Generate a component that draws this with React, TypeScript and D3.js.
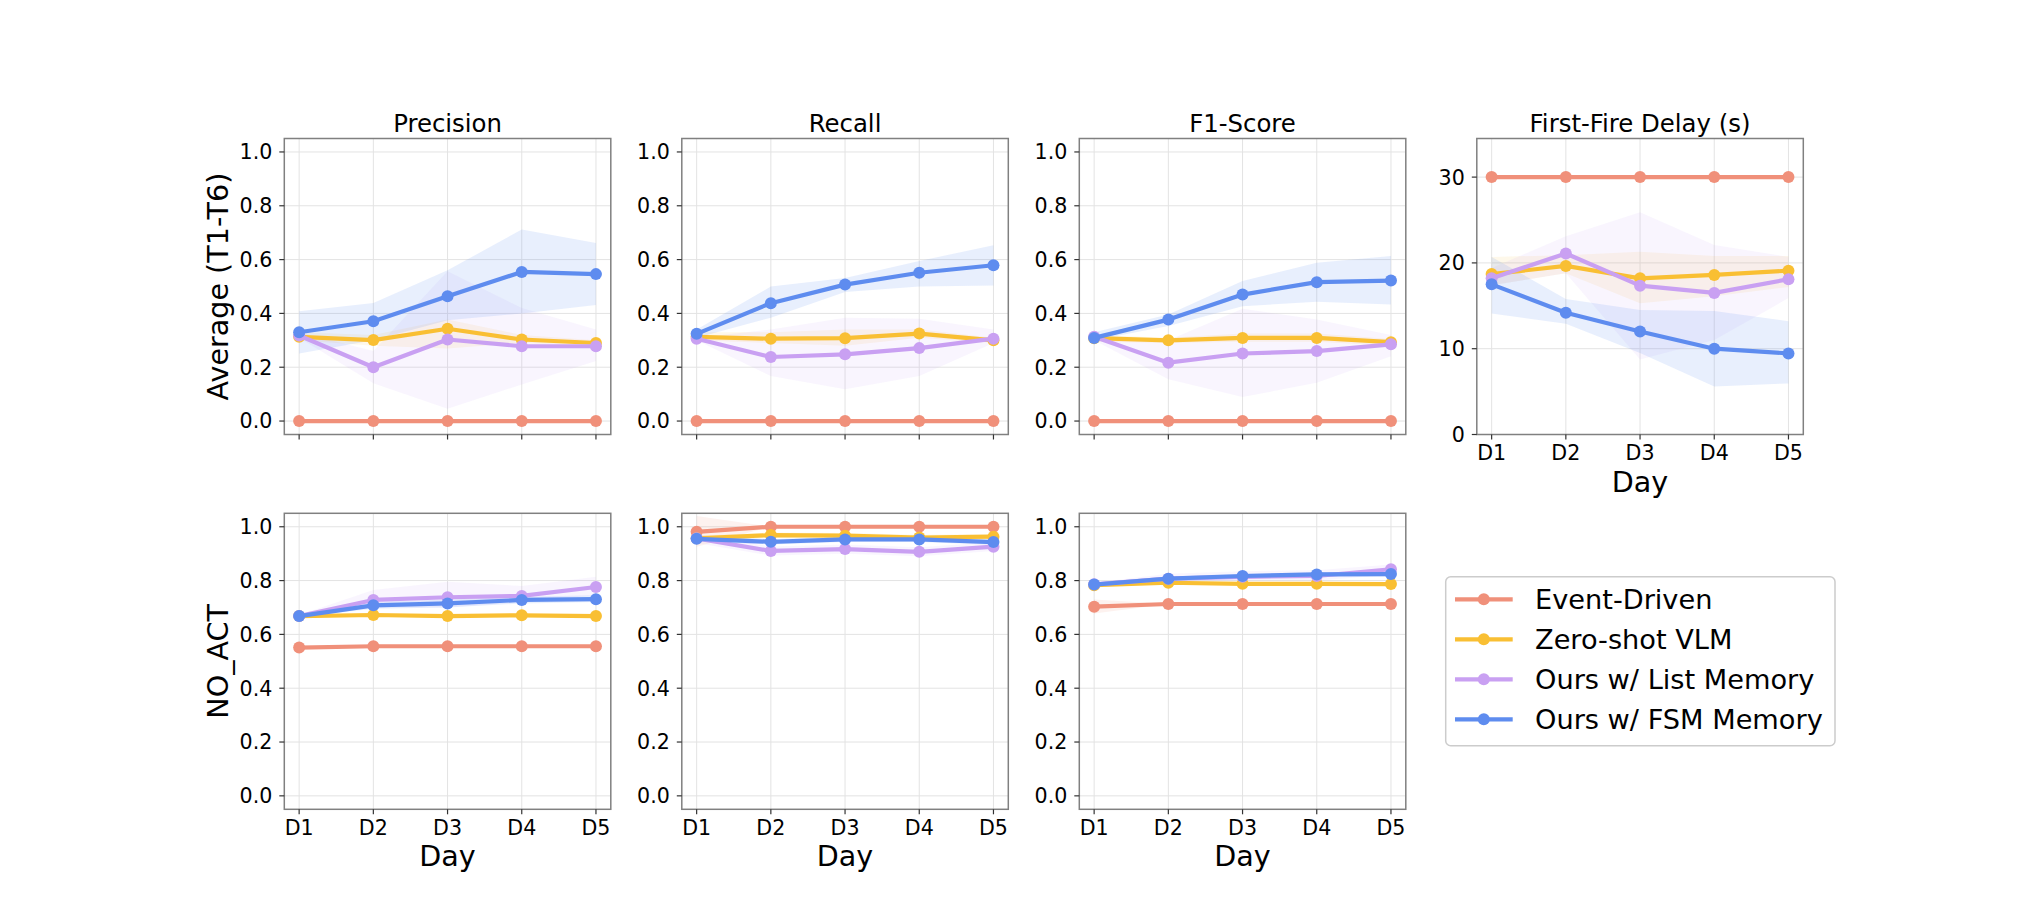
import React from "react";
import * as d3 from "d3";

// ---- data ----
const days = ["D1", "D2", "D3", "D4", "D5"];
const methods = ["Event-Driven", "Zero-shot VLM", "Ours w/ List Memory", "Ours w/ FSM Memory"];
const colors = ["#F0907A", "#F9BF33", "#C9A0F2", "#5E8CEF"];
const bandAlpha = [0.12, 0.1, 0.1, 0.14];

const metricTitles = ["Precision", "Recall", "F1-Score"];
const delayTitle = "First-Fire Delay (s)";
const rowLabels = ["Average (T1-T6)", "NO_ACT"];
const unitTicks = [0, 0.2, 0.4, 0.6, 0.8, 1.0];
const delayTicks = [0, 10, 20, 30];

// Average (T1-T6): rows are methods, columns are days
const avgPrecisionMean = [
  [0, 0, 0, 0, 0],
  [0.313, 0.301, 0.343, 0.303, 0.29],
  [0.318, 0.2, 0.303, 0.278, 0.278],
  [0.33, 0.371, 0.464, 0.554, 0.546],
];
const avgPrecisionLow = [
  [0, 0, 0, 0, 0],
  [0.3, 0.28, 0.27, 0.29, 0.28],
  [0.31, 0.14, 0.046, 0.136, 0.223],
  [0.251, 0.3, 0.375, 0.4, 0.431],
];
const avgPrecisionHigh = [
  [0, 0, 0, 0, 0],
  [0.33, 0.32, 0.377, 0.32, 0.3],
  [0.33, 0.26, 0.557, 0.42, 0.34],
  [0.408, 0.439, 0.56, 0.712, 0.662],
];

const avgRecallMean = [
  [0, 0, 0, 0, 0],
  [0.313, 0.306, 0.308, 0.325, 0.3],
  [0.306, 0.238, 0.248, 0.271, 0.306],
  [0.324, 0.438, 0.507, 0.551, 0.579],
];
const avgRecallLow = [
  [0, 0, 0, 0, 0],
  [0.3, 0.29, 0.28, 0.31, 0.29],
  [0.3, 0.167, 0.118, 0.167, 0.29],
  [0.31, 0.384, 0.48, 0.5, 0.504],
];
const avgRecallHigh = [
  [0, 0, 0, 0, 0],
  [0.33, 0.33, 0.34, 0.34, 0.31],
  [0.31, 0.34, 0.384, 0.38, 0.34],
  [0.34, 0.5, 0.532, 0.595, 0.653],
];

const avgF1Mean = [
  [0, 0, 0, 0, 0],
  [0.308, 0.3, 0.309, 0.309, 0.293],
  [0.313, 0.217, 0.251, 0.26, 0.285],
  [0.309, 0.377, 0.47, 0.516, 0.522],
];
const avgF1Low = [
  [0, 0, 0, 0, 0],
  [0.295, 0.29, 0.295, 0.295, 0.28],
  [0.3, 0.155, 0.089, 0.142, 0.241],
  [0.3, 0.353, 0.427, 0.443, 0.433],
];
const avgF1High = [
  [0, 0, 0, 0, 0],
  [0.32, 0.31, 0.325, 0.325, 0.305],
  [0.32, 0.3, 0.417, 0.377, 0.32],
  [0.33, 0.396, 0.52, 0.588, 0.613],
];

const delayMean = [
  [30, 30, 30, 30, 30],
  [18.7, 19.65, 18.2, 18.6, 19.1],
  [18.2, 21.1, 17.35, 16.5, 18.1],
  [17.5, 14.2, 12.0, 10.0, 9.45],
];
const delayLow = [
  [30, 30, 30, 30, 30],
  [17.4, 18.8, 15.3, 16.1, 17.2],
  [17.4, 18.8, 8.75, 11.0, 15.9],
  [14.1, 12.9, 9.5, 5.6, 5.95],
];
const delayHigh = [
  [30, 30, 30, 30, 30],
  [20.7, 20.9, 21.3, 20.8, 20.8],
  [19.4, 23.1, 25.9, 22.1, 20.7],
  [20.7, 15.8, 14.5, 14.4, 13.2],
];

// NO_ACT
const noActPrecisionMean = [
  [0.551, 0.556, 0.556, 0.556, 0.556],
  [0.668, 0.672, 0.668, 0.671, 0.668],
  [0.668, 0.728, 0.738, 0.743, 0.776],
  [0.668, 0.708, 0.715, 0.728, 0.731],
];
const noActPrecisionLow = [
  [0.546, 0.553, 0.553, 0.553, 0.553],
  [0.664, 0.668, 0.664, 0.667, 0.664],
  [0.665, 0.7, 0.7, 0.72, 0.745],
  [0.665, 0.695, 0.7, 0.715, 0.72],
];
const noActPrecisionHigh = [
  [0.556, 0.559, 0.559, 0.559, 0.559],
  [0.672, 0.676, 0.672, 0.675, 0.672],
  [0.672, 0.765, 0.796, 0.78, 0.814],
  [0.672, 0.72, 0.73, 0.74, 0.745],
];

const noActRecallMean = [
  [0.981, 1.0, 1.0, 1.0, 1.0],
  [0.957, 0.969, 0.967, 0.96, 0.963],
  [0.957, 0.91, 0.917, 0.907, 0.926],
  [0.955, 0.944, 0.953, 0.953, 0.943],
];
const noActRecallLow = [
  [0.926, 1.0, 1.0, 1.0, 1.0],
  [0.947, 0.959, 0.957, 0.95, 0.953],
  [0.94, 0.893, 0.9, 0.89, 0.91],
  [0.945, 0.934, 0.943, 0.943, 0.933],
];
const noActRecallHigh = [
  [1.04, 1.0, 1.0, 1.0, 1.0],
  [0.967, 0.979, 0.977, 0.97, 0.973],
  [0.972, 0.927, 0.934, 0.924, 0.943],
  [0.965, 0.954, 0.963, 0.963, 0.953],
];

const noActF1Mean = [
  [0.703, 0.713, 0.713, 0.713, 0.713],
  [0.783, 0.792, 0.788, 0.788, 0.787],
  [0.786, 0.807, 0.814, 0.817, 0.842],
  [0.785, 0.807, 0.817, 0.823, 0.824],
];
const noActF1Low = [
  [0.678, 0.713, 0.713, 0.713, 0.713],
  [0.778, 0.787, 0.783, 0.783, 0.782],
  [0.78, 0.795, 0.8, 0.8, 0.822],
  [0.777, 0.799, 0.809, 0.815, 0.816],
];
const noActF1High = [
  [0.73, 0.713, 0.713, 0.713, 0.713],
  [0.788, 0.797, 0.793, 0.793, 0.792],
  [0.792, 0.825, 0.835, 0.838, 0.86],
  [0.793, 0.815, 0.825, 0.831, 0.832],
];

// ---- layout ----
const FONT = "'DejaVu Sans', 'Liberation Sans', sans-serif";
const WIDTH = 2040;
const HEIGHT = 908;
const panelLefts = [284.3, 681.8, 1079.3, 1476.8];
const rowTops = [138.5, 513.3];
const PW = 326.5;
const PH = 296;
const TICK_FS = 20.6;
const LABEL_FS = 28.6;
const TITLE_FS = 24.4;
const LEGEND_FS = 27.2;

type PanelProps = {
  left: number;
  top: number;
  mean: number[][];
  low: number[][];
  high: number[][];
  yDomain: [number, number];
  yTicks: number[];
  yFormat: (v: number) => string;
  title?: string;
  xLabels: boolean;
  yLabel?: string;
  clipId: string;
};

function Panel(p: PanelProps) {
  const x = d3.scaleLinear().domain([-0.2, 4.2]).range([0, PW]);
  const y = d3.scaleLinear().domain(p.yDomain).range([PH, 0]);
  const idx = days.map((_, i) => i);

  const seriesPath = (vals: number[]) =>
    d3
      .line<number>()
      .x((_, i) => x(i))
      .y((v) => y(v))(vals) as string;

  const bandPath = (lo: number[], hi: number[]) =>
    d3
      .area<number>()
      .x((i) => x(i))
      .y0((i) => y(lo[i]))
      .y1((i) => y(hi[i]))(idx) as string;

  return (
    <g transform={`translate(${p.left},${p.top})`}>
      <defs>
        <clipPath id={p.clipId}>
          <rect x={0} y={0} width={PW} height={PH} />
        </clipPath>
      </defs>
      <rect x={0} y={0} width={PW} height={PH} fill="#ffffff" />
      {/* grid */}
      <g stroke="#e3e3e3" strokeWidth={1}>
        {idx.map((i) => (
          <line key={"gx" + i} x1={x(i)} x2={x(i)} y1={0} y2={PH} />
        ))}
        {p.yTicks.map((t) => (
          <line key={"gy" + t} x1={0} x2={PW} y1={y(t)} y2={y(t)} />
        ))}
      </g>
      <g clipPath={`url(#${p.clipId})`}>
        {p.mean.map((_, m) => (
          <path
            key={"band" + m}
            d={bandPath(p.low[m], p.high[m])}
            fill={colors[m]}
            fillOpacity={bandAlpha[m]}
            stroke="none"
          />
        ))}
      </g>
      {p.mean.map((vals, m) => (
        <g key={"s" + m}>
          <path d={seriesPath(vals)} fill="none" stroke={colors[m]} strokeWidth={4.2} strokeLinejoin="round" />
          {vals.map((v, i) => (
            <circle key={i} cx={x(i)} cy={y(v)} r={6} fill={colors[m]} />
          ))}
        </g>
      ))}
      {/* frame */}
      <rect x={0} y={0} width={PW} height={PH} fill="none" stroke="#808080" strokeWidth={1.5} />
      {/* y ticks */}
      {p.yTicks.map((t) => (
        <g key={"yt" + t}>
          <line x1={-5} x2={0} y1={y(t)} y2={y(t)} stroke="#333" strokeWidth={1.2} />
          <text
            x={-12}
            y={y(t) + TICK_FS * 0.36}
            textAnchor="end"
            fontSize={TICK_FS}
            fontFamily={FONT}
            fill="#000"
          >
            {p.yFormat(t)}
          </text>
        </g>
      ))}
      {/* x ticks */}
      {idx.map((i) => (
        <g key={"xt" + i}>
          <line x1={x(i)} x2={x(i)} y1={PH} y2={PH + 5} stroke="#333" strokeWidth={1.2} />
          {p.xLabels && (
            <text x={x(i)} y={PH + 25.5} textAnchor="middle" fontSize={TICK_FS} fontFamily={FONT} fill="#000">
              {days[i]}
            </text>
          )}
        </g>
      ))}
      {p.xLabels && (
        <text x={PW / 2} y={PH + 57} textAnchor="middle" fontSize={LABEL_FS} fontFamily={FONT} fill="#000">
          Day
        </text>
      )}
      {p.title && (
        <text x={PW / 2} y={-7} textAnchor="middle" fontSize={TITLE_FS} fontFamily={FONT} fill="#000">
          {p.title}
        </text>
      )}
      {p.yLabel && (
        <text
          transform={`translate(${218 - p.left + 10},${PH / 2}) rotate(-90)`}
          textAnchor="middle"
          fontSize={LABEL_FS}
          fontFamily={FONT}
          fill="#000"
        >
          {p.yLabel}
        </text>
      )}
    </g>
  );
}

function Legend() {
  const lx = 1445.7;
  const ly = 576.7;
  const rowY = (i: number) => 599.3 + i * 40;
  return (
    <g>
      <rect x={lx} y={ly} width={389.3} height={169} rx={5} fill="#fff" stroke="#cccccc" strokeWidth={1.5} />
      {methods.map((name, i) => (
        <g key={name}>
          <line x1={1455} x2={1512.7} y1={rowY(i)} y2={rowY(i)} stroke={colors[i]} strokeWidth={4.2} />
          <circle cx={1483.8} cy={rowY(i)} r={6} fill={colors[i]} />
          <text x={1535} y={rowY(i) + 9.6} fontSize={LEGEND_FS} fontFamily={FONT} fill="#000">
            {name}
          </text>
        </g>
      ))}
    </g>
  );
}

export default function App() {
  const f1 = d3.format(".1f");
  const f0 = d3.format("d");
  const topMeans = [avgPrecisionMean, avgRecallMean, avgF1Mean];
  const topLows = [avgPrecisionLow, avgRecallLow, avgF1Low];
  const topHighs = [avgPrecisionHigh, avgRecallHigh, avgF1High];
  const botMeans = [noActPrecisionMean, noActRecallMean, noActF1Mean];
  const botLows = [noActPrecisionLow, noActRecallLow, noActF1Low];
  const botHighs = [noActPrecisionHigh, noActRecallHigh, noActF1High];

  return (
    <svg
      width={WIDTH}
      height={HEIGHT}
      viewBox={`0 0 ${WIDTH} ${HEIGHT}`}
      style={{ position: "absolute", left: 0, top: 0, background: "#fff" }}
    >
      <rect x={0} y={0} width={WIDTH} height={HEIGHT} fill="#fff" />
      {metricTitles.map((t, c) => (
        <Panel
          key={"top" + c}
          clipId={"clip-top-" + c}
          left={panelLefts[c]}
          top={rowTops[0]}
          mean={topMeans[c]}
          low={topLows[c]}
          high={topHighs[c]}
          yDomain={[-0.05, 1.05]}
          yTicks={unitTicks}
          yFormat={f1}
          title={t}
          xLabels={false}
          yLabel={c === 0 ? rowLabels[0] : undefined}
        />
      ))}
      <Panel
        clipId="clip-delay"
        left={panelLefts[3]}
        top={rowTops[0]}
        mean={delayMean}
        low={delayLow}
        high={delayHigh}
        yDomain={[0, 34.5]}
        yTicks={delayTicks}
        yFormat={f0}
        title={delayTitle}
        xLabels={true}
      />
      {metricTitles.map((t, c) => (
        <Panel
          key={"bot" + c}
          clipId={"clip-bot-" + c}
          left={panelLefts[c]}
          top={rowTops[1]}
          mean={botMeans[c]}
          low={botLows[c]}
          high={botHighs[c]}
          yDomain={[-0.05, 1.05]}
          yTicks={unitTicks}
          yFormat={f1}
          xLabels={true}
          yLabel={c === 0 ? rowLabels[1] : undefined}
        />
      ))}
      <Legend />
    </svg>
  );
}
